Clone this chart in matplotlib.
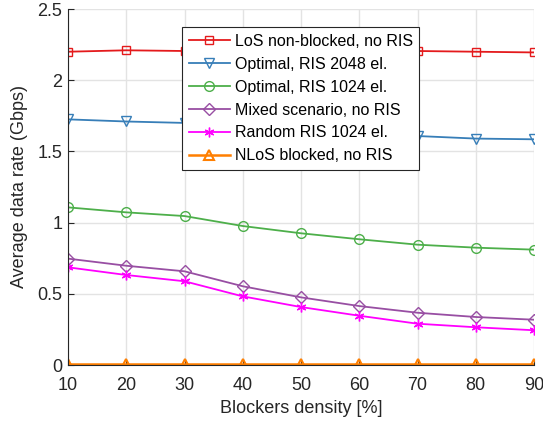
import matplotlib.pyplot as plt

density = [10, 20, 30, 40, 50, 60, 70, 80, 90]

los_no_ris = [2.20, 2.21, 2.205, 2.205, 2.205, 2.205, 2.205, 2.20, 2.195]
opt_2048 = [1.725, 1.71, 1.70, 1.68, 1.66, 1.635, 1.608, 1.59, 1.585]
opt_1024 = [1.107, 1.072, 1.046, 0.976, 0.925, 0.883, 0.845, 0.824, 0.81]
mixed_no_ris = [0.747, 0.697, 0.658, 0.553, 0.475, 0.414, 0.367, 0.337, 0.318]
random_1024 = [0.686, 0.632, 0.588, 0.482, 0.407, 0.346, 0.29, 0.265, 0.244]
nlos_blocked = [0.006, 0.006, 0.006, 0.006, 0.006, 0.006, 0.006, 0.006, 0.006]

plt.rcParams['font.family'] = ['Liberation Sans', 'DejaVu Sans']

fig = plt.figure(figsize=(5.43, 4.33), dpi=100)
ax = fig.add_axes([68 / 543, 1 - 365 / 433, 466 / 543, 356 / 433])

ax.plot(density, los_no_ris, color='#e41a1c', marker='s', markersize=5.5,
        markerfacecolor='none', lw=1.3, label='LoS non-blocked, no RIS')
ax.plot(density, opt_2048, color='#377eb8', marker='v', markersize=7.5,
        markerfacecolor='none', lw=1.3, label='Optimal, RIS 2048 el.')
ax.plot(density, opt_1024, color='#4daf4a', marker='o', markersize=7,
        markerfacecolor='none', lw=1.3, label='Optimal, RIS 1024 el.')
ax.plot(density, mixed_no_ris, color='#984ea3', marker='D', markersize=6,
        markerfacecolor='none', lw=1.3, label='Mixed scenario, no RIS')
ax.plot(density, random_1024, color='#ff00ff', marker=(6, 2, 0), markersize=7,
        lw=1.3, label='Random RIS 1024 el.')
ax.plot(density, nlos_blocked, color='#ff7f00', marker='^', markersize=7.5,
        markerfacecolor='none', markeredgewidth=1.5, lw=1.8, label='NLoS blocked, no RIS')

ax.set_xlim(10, 90)
ax.set_ylim(0, 2.5)
ax.set_xticks(density)
ax.set_yticks([0, 0.5, 1, 1.5, 2, 2.5])
ax.set_yticklabels(['0', '0.5', '1', '1.5', '2', '2.5'])
ax.grid(True, color='#e3e3e3', lw=1)
ax.set_axisbelow(True)
for side in ['top', 'right']:
    ax.spines[side].set_visible(False)
for side in ['left', 'bottom']:
    ax.spines[side].set_color('#262626')
ax.tick_params(direction='in', length=4, labelsize=13, colors='#262626')
ax.tick_params(axis='x', pad=9)
ax.tick_params(axis='y', pad=4)

ax.set_xlabel('Blockers density [%]', fontsize=13, color='#262626', labelpad=4)
ax.set_ylabel('Average data rate (Gbps)', fontsize=13, color='#262626', labelpad=7)

leg = ax.legend(loc='upper left', bbox_to_anchor=(0.245, 0.949), fontsize=11.5,
                fancybox=False, framealpha=1, edgecolor='#262626',
                borderpad=0.4, labelspacing=0.5, handlelength=2.6,
                handletextpad=0.3, borderaxespad=0)
leg.get_frame().set_linewidth(0.8)

fig.savefig('out.png', dpi=100)
